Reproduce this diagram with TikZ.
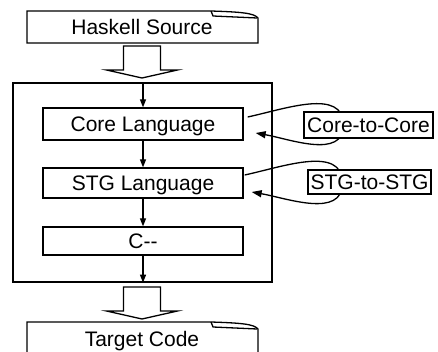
\documentclass[tikz,border=0pt]{standalone}
\usepackage{fontspec}
\setmainfont{Liberation Sans}
\usetikzlibrary{arrows.meta,calc,backgrounds}

% a sheet of paper with a curled top-right corner
\tikzset{paperdoc/.pic={
  \draw[fill=white, line join=miter] (0,0) -- (184,0)
    .. controls (214,1) and (227,2) .. (231,7) -- (231,32) -- (0,32) -- cycle;
  \draw (184,0) .. controls (185,3) .. (186,5) -- (230,7);
}}
% hollow block arrow pointing down
\tikzset{bigarrow/.pic={
  \draw[fill=white, line join=miter] (-18.5,0) -- (18.5,0) -- (18.5,24) -- (35.5,24)
    -- (0,32) -- (-35.5,24) -- (-18.5,24) -- cycle;
}}

\begin{document}
\begin{tikzpicture}[x=1pt, y=-1pt, line width=1.3pt,
  every node/.style={font=\fontsize{21}{25}\selectfont, text height=15pt, text depth=0pt, inner sep=0pt},
  stage/.style={draw, fill=white, minimum width=200pt},
  pass/.style={draw, fill=white},
  flow/.style={-{Triangle[length=8pt,width=6pt]}},
  loopflow/.style={line width=1.3pt, -{Triangle[length=10pt,width=7pt]}},
]
\useasboundingbox (0,0) rectangle (438,352);
\clip (0,0) rectangle (438,352);

% input and output documents
\pic at (27,11) {paperdoc};
\node (src) at (142,27.5) {Haskell Source};
\pic at (27,322) {paperdoc};
\node (tgt) at (142,338.5) {Target Code};

% block arrows into and out of the compiler
\coordinate (inarrow) at ($(src.center |- 0,46)$);
\pic at (inarrow) {bigarrow};
\coordinate (outarrow) at ($(tgt.center |- 0,287)$);
\pic at (outarrow) {bigarrow};

% the compiler and its intermediate languages
\node[draw, minimum width=259pt, minimum height=199pt] (ghc) at (142.5,182.5) {};
\node[stage, minimum height=32pt] (core) at (143,124) {Core Language};
\node[stage, minimum height=30pt] (stg) at (143,183) {STG Language};
\node[stage, minimum height=28pt] (cmm) at (143,241) {C-{}-};

\node[pass, minimum width=129pt, minimum height=26pt] (c2c) at (368.5,125) {Core-to-Core};
\node[pass, minimum width=123pt, minimum height=24pt] (s2s) at (369.5,182) {STG-to-STG};

% pipeline
\draw[flow] (core.north |- ghc.north) -- (core.north);
\draw[flow] (core) -- (stg);
\draw[flow] (stg) -- (cmm);
\draw[flow] (cmm.south) -- (cmm.south |- ghc.south);

% optimisation loops, passing behind the pass boxes
\begin{scope}[on background layer]
  \coordinate (coreturn) at ($(c2c.center)+(-25,0)$);
  \draw[loopflow] ($(core.east)+(4,-7)$) to[out=12,in=90] (coreturn)
    to[out=-90,in=-10] ($(core.east)+(12,9)$);
  \coordinate (stgturn) at ($(s2s.center)+(-27,1)$);
  \draw[loopflow] ($(stg.east)+(1,-8)$) to[out=12,in=90] (stgturn)
    to[out=-90,in=-10] ($(stg.east)+(8,9)$);
\end{scope}
\end{tikzpicture}
\end{document}
